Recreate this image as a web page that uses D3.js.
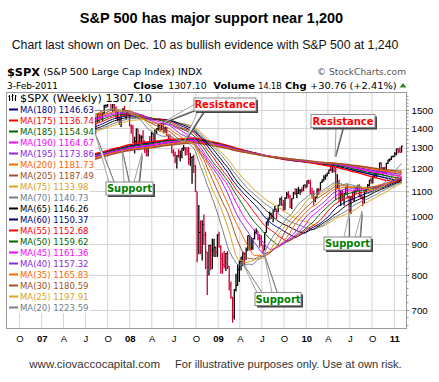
<!DOCTYPE html>
<html><head><meta charset="utf-8">
<script src="https://cdn.jsdelivr.net/npm/d3@7/dist/d3.min.js"></script>
<style>html,body{margin:0;padding:0;background:#fff;} svg{display:block}</style>
</head><body>
<script>
// ---------- DATA: weekly S&P 500 closes (week ending Fridays, from 3-Jan-2003) ----------
const close2003 = [908.59,927.57,901.78,861.40,855.70, 829.69,834.89,848.17,841.15, 828.89,833.27,895.79,863.50, 878.85,868.30,893.58,898.81, 930.08,933.41,946.67,933.22,963.59, 987.76,988.61,995.69,976.22, 985.70,998.14,993.32,998.68, 980.15,977.59,990.67,993.06,1008.01, 1021.39,1018.63,1036.30,996.85, 1029.85,1038.06,1039.32,1028.91,1050.71, 1053.21,1050.35,1035.28,1058.20, 1061.50,1074.14,1088.66,1095.89];
const close2004 = [1108.48,1121.86,1139.83,1141.55,1131.13, 1142.76,1145.81,1144.11,1144.94, 1156.86,1120.57,1109.78,1108.06, 1141.81,1139.32,1134.61,1140.60,1107.30, 1098.70,1095.70,1093.56,1120.68, 1122.50,1136.47,1135.02,1134.43, 1125.38,1112.81,1101.39,1086.20,1101.72, 1063.97,1064.80,1098.35,1107.77, 1113.63,1123.92,1128.55,1110.11, 1131.50,1122.14,1108.20,1095.74,1130.20, 1166.17,1184.17,1170.34,1182.65, 1191.17,1188.00,1194.20,1210.13,1211.92];
const close2005 = [1186.19,1184.52,1167.87,1171.36, 1203.03,1205.30,1201.59,1211.37, 1222.12,1200.08,1189.65,1171.42, 1172.92,1181.20,1142.62,1152.12,1156.85, 1178.84,1154.05,1189.28,1198.78, 1196.02,1200.93,1216.96,1191.57, 1194.44,1211.86,1227.92,1233.68,1234.18, 1226.42,1230.39,1219.71,1205.10, 1218.02,1241.48,1237.91,1215.29,1228.81, 1195.90,1186.57,1179.59,1198.41, 1220.14,1234.72,1248.27,1268.25, 1265.08,1259.37,1267.32,1268.66,1248.29];
const close2006 = [1285.45,1287.61,1261.49,1283.72, 1264.03,1266.99,1287.24,1289.43, 1302.95,1281.58,1307.25,1302.95,1294.83, 1295.50,1289.12,1311.28,1310.61, 1325.76,1291.24,1267.03,1280.16, 1288.22,1252.30,1251.54,1244.50,1270.20, 1265.48,1236.20,1240.29,1278.55, 1279.36,1266.74,1302.30,1295.09, 1311.01,1298.92,1319.66,1314.78,1335.85, 1349.59,1365.62,1368.60,1377.34, 1364.30,1380.90,1401.20,1400.95, 1396.71,1409.84,1427.09,1410.76,1418.30];
const close2007 = [1409.71,1430.73,1430.50,1422.18, 1448.39,1438.06,1455.54,1451.19, 1387.17,1402.84,1386.95,1436.11,1420.86, 1443.76,1452.85,1484.35,1494.07, 1505.62,1505.85,1522.75,1515.73, 1536.34,1507.67,1532.91,1502.56,1503.35, 1530.44,1552.50,1534.10,1458.95, 1433.06,1453.64,1445.94,1479.37,1473.99, 1453.55,1484.25,1525.75,1526.75, 1557.59,1561.80,1500.63,1535.28, 1509.65,1453.70,1458.74,1440.70,1481.14, 1504.66,1467.95,1484.46,1478.49];
const close2008 = [1411.63,1401.02,1325.19,1330.61, 1395.42,1331.29,1349.99,1353.11,1330.63, 1293.37,1288.14,1329.51,1315.22, 1370.40,1332.83,1390.33,1397.84, 1413.90,1388.28,1425.35,1375.93,1400.38, 1360.68,1360.03,1317.93,1278.38, 1262.90,1239.49,1260.68,1257.76, 1260.31,1296.32,1298.20,1292.20,1282.83, 1242.31,1251.70,1255.08,1213.27, 1099.23,899.22,940.55,876.77,968.75, 930.99,873.29,800.03,896.24, 876.07,879.73,887.88,872.80];
const close2009 = [931.80,890.35,850.12,831.95,825.88, 868.60,826.84,770.05,735.09, 683.38,756.55,768.54,815.94, 842.50,856.56,869.60,866.23, 877.52,929.23,882.88,887.00,919.14, 940.09,946.21,921.23,918.90, 896.42,879.13,940.38,979.26,987.48, 1010.48,1004.09,1026.13,1028.93, 1016.40,1042.73,1068.30,1044.38, 1025.21,1071.49,1087.68,1079.60,1036.19, 1069.30,1093.48,1091.38,1091.49, 1105.98,1106.41,1102.47,1126.48,1115.10];
const close2010 = [1144.98,1136.03,1091.76,1073.87, 1066.19,1075.51,1109.17,1104.49, 1138.70,1149.99,1159.90,1166.59, 1178.10,1194.37,1192.13,1217.28,1186.69, 1110.88,1135.68,1087.69,1089.41, 1064.88,1091.60,1117.51,1076.76, 1022.58,1077.96,1064.88,1102.66,1101.60, 1121.64,1079.25,1071.69,1064.59, 1104.51,1109.55,1125.59,1148.67, 1146.24,1165.15,1176.19,1183.08,1183.26, 1225.85,1199.21,1199.73,1189.40, 1224.71,1240.40,1243.91,1256.77,1257.64];
const close2011 = [1271.50,1293.24,1283.35,1276.34,1307.10];

// weekly highs / lows of the displayed bars (from week ending 4-Aug-2006)
const high2006 = [1283,1284,1303,1305, 1312,1314,1320,1328,1340, 1350,1366,1372,1389, 1381,1388,1403,1407, 1403,1415,1431,1429,1427];
const low2006  = [1265,1261,1266,1290, 1295,1294,1294,1310,1314, 1331,1343,1360,1366, 1360,1363,1378,1398, 1377,1396,1409,1409,1409];
const high2007 = [1429,1431,1437,1440, 1449,1453,1457,1461, 1456,1410,1409,1438,1436, 1444,1453,1485,1498, 1510,1513,1523,1529, 1540,1540,1538,1538,1517, 1532,1556,1555,1542, 1488,1503,1456,1480,1481, 1496,1485,1530,1532, 1561,1576,1564,1536, 1552,1520,1492,1462,1488, 1510,1523,1485,1498];
const low2007  = [1404,1403,1426,1416, 1420,1436,1433,1449, 1384,1374,1363,1386,1407, 1419,1436,1451,1478, 1484,1491,1498,1503, 1512,1487,1505,1500,1484, 1503,1510,1530,1458, 1430,1430,1371,1430,1432, 1449,1439,1476,1512, 1518,1546,1500,1490, 1492,1450,1439,1416,1406, 1469,1467,1446,1468];
const high2008 = [1471,1420,1417,1355, 1396,1394,1368,1362,1388, 1335,1321,1330,1359, 1380,1373,1395,1398, 1422,1421,1426,1441,1406, 1405,1370,1368,1333, 1291,1279,1263,1292, 1285,1297,1313,1301,1303, 1303,1274,1256,1265, 1215,1098,1044,985,985, 1007,943,873,897, 897,918,918,892];
const low2008  = [1411,1370,1322,1271, 1320,1316,1321,1325,1326, 1273,1257,1257,1312, 1313,1330,1324,1370, 1385,1381,1390,1373,1373, 1360,1335,1317,1272, 1257,1225,1200,1250, 1234,1248,1283,1261,1263, 1217,1212,1133,1180, 1098,840,866,866,845, 897,818,741,799, 815,818,857,857];
const high2009 = [934,943,896,871,877, 870,876,827,780, 736,758,804,833, 845,857,875,871, 888,930,930,924,920, 951,956,945,935, 931,898,941,980,996, 1019,1013,1027,1040, 1028,1045,1074,1080, 1064,1076,1097,1101,1085, 1072,1097,1113,1112, 1119,1107,1117,1127,1130];
const low2009  = [857,888,804,804,821, 812,818,754,731, 667,675,751,768, 779,814,828,826, 847,878,878,879,881, 916,934,913,888, 894,869,880,940,965, 988,990,978,1017, 991,1016,1042,1041, 1020,1025,1071,1070,1033, 1029,1070,1086,1073, 1090,1086,1095,1102,1115];
const high2010 = [1146,1150,1150,1115, 1104,1080,1112,1113, 1139,1151,1170,1174, 1181,1195,1213,1218,1220, 1205,1174,1150,1104, 1106,1092,1120,1131, 1082,1080,1100,1103,1120, 1128,1130,1100,1080, 1105,1111,1131,1149, 1158,1168,1184,1189,1196, 1227,1228,1207,1208, 1226,1241,1247,1259,1260];
const low2010  = [1116,1131,1090,1071, 1044,1056,1075,1086, 1104,1136,1142,1150, 1165,1175,1188,1181,1182, 1066,1110,1056,1040, 1061,1042,1087,1071, 1011,1010,1063,1056,1089, 1102,1076,1069,1040, 1049,1089,1107,1122, 1132,1134,1157,1159,1173, 1182,1194,1173,1181, 1174,1221,1233,1240,1252];
const high2011 = [1277,1294,1296,1302,1308];
const low2011  = [1257,1262,1271,1275,1276];

// moving-average overlays (legend order) and the values printed in the legend
const maPeriods = [180,175,185,190,195,200,205,75,70,65,60,55,50,45,40,35,30,25,20];
const maLegendValues = ["1146.63","1136.74","1154.94","1164.67","1173.86","1181.73","1187.49","1133.98","1140.73","1146.26","1150.37","1152.68","1159.62","1161.36","1157.32","1165.83","1180.59","1197.91","1223.59"];
const maColors = ["#000080","#ff0000","#006400","#ff00ff","#8a2be2","#ff6600","#a0522d","#daa520","#708090","#000000","#000080","#ff0000","#006400","#ff00ff","#8a2be2","#ff6600","#a0522d","#daa520","#708090"];

// axis ticks
const yTicks = [700,800,900,1000,1100,1200,1300,1400,1500];
const xTickLabels = ["O","07","A","J","O","08","A","J","O","09","A","J","O","10","A","J","O","11"];

// ---------- CHART ----------
const closes = [].concat(close2003,close2004,close2005,close2006,close2007,close2008,close2009,close2010,close2011);
const highs = [].concat(high2006,high2007,high2008,high2009,high2010,high2011);
const lows  = [].concat(low2006,low2007,low2008,low2009,low2010,low2011);
const barStart = closes.length - highs.length;
const weekDate = i => new Date(2002, 11, 30 + 7*i); // Monday of each week

const W=439,H=382;
const P={l:7,r:406,t:93,b:328};
const svg=d3.select('body').append('svg').attr('width',W).attr('height',H);
const x=d3.scaleTime().domain([new Date(2007,0,1),new Date(2011,0,1)]).range([41.7,394.3]);
const y=d3.scaleLog().domain([700,1500]).range([310,110]);
const SANS="'Liberation Sans',Arial,sans-serif";
const VER="'DejaVu Sans',Verdana,sans-serif";

// titles
svg.append('text').attr('x',211.5).attr('y',23.3).attr('text-anchor','middle')
  .style('font-family',SANS).style('font-weight','bold').style('font-size','14.5px')
  .text('S&P 500 has major support near 1,200');
svg.append('text').attr('x',205).attr('y',49.3).attr('text-anchor','middle')
  .style('font-family',SANS).style('font-size','12.3px').attr('fill','#111')
  .text('Chart last shown on Dec. 10 as bullish evidence with S&P 500 at 1,240');

// header
function t(xp,yp,str,size,opts={}){
  const e=svg.append('text').attr('x',xp).attr('y',yp).style('font-family',opts.fam||VER)
    .style('font-size',size+'px').attr('fill',opts.fill||'#000').text(str);
  if(opts.bold) e.style('font-weight','bold');
  if(opts.len) e.attr('textLength',opts.len).attr('lengthAdjust','spacingAndGlyphs');
  if(opts.anchor) e.attr('text-anchor',opts.anchor);
  return e;
}
t(7,75.5,'$SPX',11.3,{bold:true,len:33});
t(43.3,75,'(S&P 500 Large Cap Index) INDX',9,{len:159});
t(406,75,'© StockCharts.com',9.3,{fill:'#555',anchor:'end',len:89});
t(7,88.5,'3-Feb-2011',8.8,{len:51});
t(133.3,88.5,'Close',9.5,{bold:true,len:30});
t(168.3,88.5,'1307.10',8.8,{len:38.4});
t(213.3,88.5,'Volume',9.5,{bold:true,len:41.7});
t(258.3,88.5,'14.1B',8.8,{len:23.4});
t(285,88.5,'Chg',9.5,{bold:true,len:21.7});
t(310,88.5,'+30.76 (+2.41%)',8.8,{len:86.7});
svg.append('path').attr('d','M399.5,87.5 L406.5,87.5 L403,83 Z').attr('fill','#2e8b2e');

// plot background and grid
svg.append('rect').attr('x',P.l).attr('y',P.t).attr('width',P.r-P.l).attr('height',P.b-P.t).attr('fill','#fff');
const xTickDates=d3.timeMonth.range(new Date(2006,9,1),new Date(2011,0,2),3);
const grid=svg.append('g');
grid.selectAll('line.v').data(xTickDates).join('line').attr('class','v')
  .attr('x1',d=>x(d)).attr('x2',d=>x(d)).attr('y1',P.t).attr('y2',P.b)
  .attr('stroke','#d4d4d4').attr('stroke-width',1);
grid.selectAll('line.h').data(yTicks).join('line').attr('class','h')
  .attr('x1',P.l).attr('x2',P.r).attr('y1',d=>Math.round(y(d))+0.5).attr('y2',d=>Math.round(y(d))+0.5)
  .attr('stroke','#d4d4d4').attr('stroke-width',1);

// clip
svg.append('clipPath').attr('id','clip').append('rect').attr('x',P.l).attr('y',P.t).attr('width',P.r-P.l).attr('height',P.b-P.t);
const g=svg.append('g').attr('clip-path','url(#clip)');

// price bars
const bars=d3.range(barStart,closes.length).map(i=>({i,d:weekDate(i),h:highs[i-barStart],l:lows[i-barStart],c:closes[i],up:closes[i]>=closes[i-1]}));
const bg=g.append('g');
bg.selectAll('line.hl').data(bars).join('line').attr('class','hl')
  .attr('x1',d=>x(d.d)).attr('x2',d=>x(d.d)).attr('y1',d=>y(d.h)).attr('y2',d=>y(d.l))
  .attr('stroke',d=>d.up?'#000':'#cc0033').attr('stroke-width',1.3);
bg.selectAll('line.cl').data(bars).join('line').attr('class','cl')
  .attr('x1',d=>x(d.d)).attr('x2',d=>x(d.d)+1.6).attr('y1',d=>y(d.c)).attr('y2',d=>y(d.c))
  .attr('stroke',d=>d.up?'#000':'#cc0033').attr('stroke-width',1);

// moving averages
function movingAverage(n){
  const out=[];let s=0;
  for(let i=0;i<closes.length;i++){s+=closes[i]; if(i>=n) s-=closes[i-n]; if(i>=n-1 && i>=barStart-2) out.push({i,v:s/n});}
  return out;
}
const line=d3.line().x(d=>x(weekDate(d.i))).y(d=>y(d.v));
maPeriods.forEach((n,k)=>{
  g.append('path').datum(movingAverage(n)).attr('d',line).attr('fill','none')
   .attr('stroke',maColors[k]).attr('stroke-width',n>100?1.4:1);
});

// frame
svg.append('rect').attr('x',P.l-0.5).attr('y',P.t-0.5).attr('width',P.r-P.l+1).attr('height',P.b-P.t+1)
  .attr('fill','none').attr('stroke','#9a9a9a');

// y axis (right)
const ya=svg.append('g').attr('transform',`translate(${P.r},0)`)
  .call(d3.axisRight(y).tickValues(yTicks).tickFormat(d3.format('d')).tickSize(3).tickPadding(3));
ya.select('.domain').remove();
ya.selectAll('line').attr('stroke','#888');
ya.selectAll('text').style('font-family',SANS).style('font-size','9.7px').attr('fill','#000').attr('x',5.5);
const minor=d3.range(660,1600,20).filter(v=>v%100!==0);
svg.append('g').selectAll('line').data(minor).join('line')
  .attr('x1',P.r+1).attr('x2',P.r+2.5).attr('y1',d=>y(d)).attr('y2',d=>y(d)).attr('stroke','#999');

// x axis labels
const xa=svg.append('g').attr('transform',`translate(0,${P.b})`)
  .call(d3.axisBottom(x).tickValues(xTickDates).tickFormat((d,i)=>xTickLabels[i]).tickSize(0).tickPadding(7));
xa.select('.domain').remove();
xa.selectAll('text').style('font-family',SANS).style('font-size','9.5px').attr('fill','#000')
  .style('font-weight',(d,i)=>/\d/.test(xTickLabels[i])?'bold':'normal');

// legend
const lg=svg.append('g');
const row0=98.5;
const bgs=lg.append('g');
const spx=lg.append('text').attr('x',20).attr('y',row0+3.6).style('font-family',VER).style('font-size','10px')
  .attr('textLength',132).attr('lengthAdjust','spacingAndGlyphs').text('$SPX (Weekly) 1307.10');
bgs.append('rect').attr('x',P.l).attr('y',P.t).attr('width',20+132+1-P.l).attr('height',row0+5.5-P.t).attr('fill','#fff');
// little bar icon
lg.append('path').attr('d','M9.5,95 v6 M8.5,96.5 h1 M9.5,99.5 h1 M12.5,94 v7 M11.5,97 h1 M12.5,95.5 h1 M15.5,95 v6 M14.5,99 h1 M15.5,96 h1')
  .attr('stroke','#000').attr('stroke-width',1).attr('fill','none');
maPeriods.forEach((n,k)=>{
  const cy=row0+11*(k+1);
  const tx=lg.append('text').attr('x',20).attr('y',cy+3).style('font-family',VER).style('font-size','8.5px')
    .attr('fill',maColors[k]).text(`MA(${n}) ${maLegendValues[k]}`);
  const w=tx.node().getComputedTextLength();
  bgs.append('rect').attr('x',P.l).attr('y',cy-5.5).attr('width',20+w+1-P.l).attr('height',11).attr('fill','#fff');
  lg.append('line').attr('x1',9).attr('x2',18).attr('y1',cy).attr('y2',cy).attr('stroke',maColors[k]).attr('stroke-width',2);
});

// callouts
function callout(box,label,color,wedges){
  const a=svg.append('g');
  wedges.forEach(w=>{
    const pts=[w[0],w[1],w[2]];
    a.append('polygon').attr('points',pts.map(p=>[p[0]+1,p[1]+1].join(',')).join(' ')).attr('fill','#444');
    a.append('polygon').attr('points',pts.map(p=>p.join(',')).join(' ')).attr('fill','#fff').attr('stroke','#8a8a8a').attr('stroke-width',0.8);
  });
  a.append('rect').attr('x',box.x+2).attr('y',box.y+2).attr('width',box.w).attr('height',box.h).attr('fill','#444');
  a.append('rect').attr('x',box.x).attr('y',box.y).attr('width',box.w).attr('height',box.h).attr('fill','#fff').attr('stroke','#8a8a8a');
  a.append('text').attr('x',box.x+box.w/2).attr('y',box.y+box.h/2+3.6).attr('text-anchor','middle')
    .style('font-family',VER).style('font-weight','bold').style('font-size','10px').attr('fill',color).text(label);
}
callout({x:194,y:98,w:62,h:13},'Resistance','#ff0000',[[[195,104],[195,110],[162,123]],[[198,111],[204,111],[184,142]]]);
callout({x:106,y:182,w:47,h:13},'Support','#008000',[[[109,182],[114,182],[95,133]],[[124,182],[129,182],[122,150]],[[134,182],[139,182],[142,153]]]);
callout({x:255,y:292.5,w:46,h:13},'Support','#008000',[[[257,292.5],[262,292.5],[242,262]],[[272,292.5],[277,292.5],[264,254]]]);
callout({x:311,y:114.5,w:64,h:13},'Resistance','#ff0000',[[[336,127.5],[343,127.5],[335,157]]]);
callout({x:324,y:237,w:47,h:13},'Support','#008000',[[[344,237],[349,237],[349,214]],[[355,237],[360,237],[362,211]]]);

// footer
t(29.3,367.5,'www.ciovaccocapital.com',11,{fam:SANS,fill:'#333',len:130.7});
t(175,367.5,'For illustrative purposes only.  Use at own risk.',11,{fam:SANS,fill:'#333',len:226.7});
</script>
</body></html>
